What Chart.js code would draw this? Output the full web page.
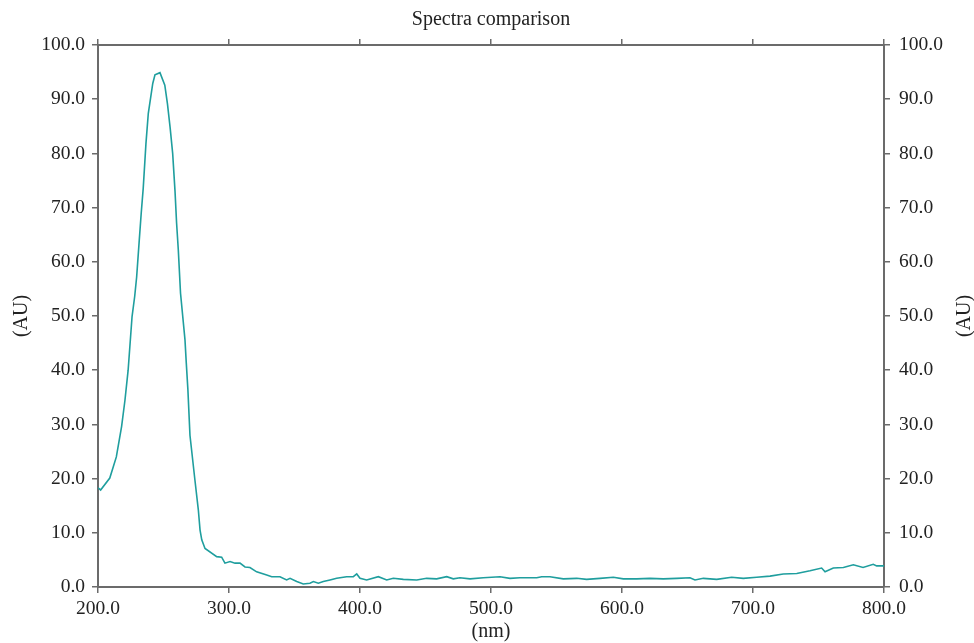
<!DOCTYPE html>
<html>
<head>
<meta charset="utf-8">
<title>Spectra comparison</title>
<script src="https://cdn.jsdelivr.net/npm/chart.js@4/dist/chart.umd.min.js"></script>
<style>
  html, body { margin: 0; padding: 0; background: #ffffff; }
  #chart { display: block; }
</style>
</head>
<body>
<canvas id="chart" width="974" height="643"></canvas>
<script>
// Dati (nm -> AU)
const wavelengths = [
  200, 202, 209, 214, 218, 220.6, 223, 226, 228, 229.5, 231.5, 233, 234.5, 236.6, 238.4,
  241.8, 243.5, 247.3, 251, 253, 255, 257, 258.8, 260, 261.3, 263, 266.4, 267.4, 268.6,
  270.2, 274, 276.6, 277.9, 279.2, 281.7, 290.6, 294.4, 296.9, 300.8, 304.6,
  308.4, 312.2, 316, 321.1, 328.8, 332.6, 338.9, 344, 346.6, 351.7, 356.7, 361.8, 364.4,
  368.2, 372, 377.1, 382.2, 389.8, 394.9, 397.5, 400, 405.1, 414, 420.4, 425.4, 433.1,
  443.3, 450.9, 458.5, 466.2, 471.2, 476.3, 484, 494.1, 506.9, 514.5, 522.1, 534.9,
  538.7, 545, 555.2, 565.4, 573, 583.2, 593.4, 601, 611.2, 621.4, 631.5, 641.8, 651.9,
  655.7, 662.1, 672.3, 683.7, 692.6, 702.8, 713, 723.1, 733.4, 743.5, 752.4, 755,
  761.3, 769, 776.6, 784, 791.8, 794.4, 800
];
const absorbance = [
  18.3, 17.9, 20.1, 24.0, 29.6, 34.5, 40.0, 49.9, 53.6, 57.2, 64.0, 69.0, 73.5, 81.8, 87.4,
  92.9, 94.5, 94.9, 92.6, 89.2, 84.9, 80.0, 73.0, 67.1, 62.2, 54.2, 45.6, 41.3, 36.5,
  28.0, 19.7, 14.2, 10.5, 8.7, 7.1, 5.6, 5.5, 4.4, 4.7, 4.4,
  4.4, 3.7, 3.6, 2.8, 2.2, 1.9, 1.9, 1.3, 1.6, 1.0, 0.55, 0.7, 1.0,
  0.7, 1.0, 1.3, 1.6, 1.9, 1.9, 2.4, 1.6, 1.3, 1.9, 1.3, 1.6, 1.4,
  1.3, 1.6, 1.5, 1.9, 1.5, 1.7, 1.5, 1.7, 1.9, 1.6, 1.7, 1.7,
  1.9, 1.9, 1.5, 1.6, 1.4, 1.6, 1.8, 1.5, 1.5, 1.6, 1.5, 1.6, 1.7,
  1.3, 1.6, 1.4, 1.8, 1.6, 1.8, 2.0, 2.4, 2.5, 3.0, 3.5, 2.8,
  3.5, 3.6, 4.1, 3.6, 4.2, 3.9, 3.9
];
const xTicks = [200, 300, 400, 500, 600, 700, 800];
const yTicks = [0, 10, 20, 30, 40, 50, 60, 70, 80, 90, 100];

const titoloGrafico = "Spectra comparison";
const titoloX = "(nm)";
const titoloY = "(AU)";

// Stile
const fontSerif = "'Liberation Serif', 'DejaVu Serif', serif";
const coloreAssi = "#6b6b6b";
const coloreLinea = "#1f9e9e";

const punti = wavelengths.map((x, i) => ({ x: x, y: absorbance[i] }));

function formatta(v) {
  return Number(v).toFixed(1);
}

// Testi fuori dagli assi (titolo e titoli degli assi)
const testiPlugin = {
  id: "testi",
  afterDraw(chart) {
    const ctx = chart.ctx;
    const area = chart.chartArea;
    const centroX = (area.left + area.right) / 2;
    const centroY = (area.top + area.bottom) / 2;
    ctx.save();
    ctx.fillStyle = "#222222";
    ctx.textAlign = "center";
    ctx.textBaseline = "middle";
    ctx.font = "20px " + fontSerif;
    ctx.fillText(titoloGrafico, centroX, 20);
    ctx.fillText(titoloX, centroX, 632);

    // (AU) a sinistra e a destra, ruotato
    [22, 965].forEach(function (x) {
      ctx.save();
      ctx.translate(x, centroY);
      ctx.rotate(-Math.PI / 2);
      ctx.fillText(titoloY, 0, 0);
      ctx.restore();
    });
    ctx.restore();
  },
};

const grigliaAssi = {
  drawOnChartArea: false,
  drawTicks: true,
  tickLength: 6,
  color: coloreAssi,
  lineWidth: 1.5,
};
const bordoAssi = { color: coloreAssi, width: 2 };
const fontTick = { family: fontSerif, size: 19.5 };

const config = {
  type: "line",
  data: {
    datasets: [
      {
        label: titoloGrafico,
        data: punti,
        borderColor: coloreLinea,
        borderWidth: 1.6,
        pointRadius: 0,
        tension: 0,
        fill: false,
      },
    ],
  },
  options: {
    responsive: false,
    animation: false,
    layout: { padding: 0 },
    plugins: {
      legend: { display: false },
      tooltip: { enabled: false },
      title: { display: false },
    },
    scales: {
      x: {
        type: "linear",
        position: "bottom",
        min: 200,
        max: 800,
        afterBuildTicks: (s) => { s.ticks = xTicks.map((v) => ({ value: v })); },
        ticks: { color: "#222222", font: fontTick, padding: 4, maxRotation: 0, callback: formatta },
        grid: grigliaAssi,
        border: bordoAssi,
        afterFit: (s) => { s.height = 56; },
      },
      xTop: {
        type: "linear",
        position: "top",
        min: 200,
        max: 800,
        afterBuildTicks: (s) => { s.ticks = xTicks.map((v) => ({ value: v })); },
        ticks: { display: false },
        grid: grigliaAssi,
        border: bordoAssi,
        afterFit: (s) => { s.height = 45; },
      },
      y: {
        type: "linear",
        position: "left",
        min: 0,
        max: 100,
        afterBuildTicks: (s) => { s.ticks = yTicks.map((v) => ({ value: v })); },
        ticks: { color: "#222222", font: fontTick, padding: 7, callback: formatta },
        grid: grigliaAssi,
        border: bordoAssi,
        afterFit: (s) => { s.width = 98; },
      },
      yRight: {
        type: "linear",
        position: "right",
        min: 0,
        max: 100,
        afterBuildTicks: (s) => { s.ticks = yTicks.map((v) => ({ value: v })); },
        ticks: { color: "#222222", font: fontTick, padding: 9, callback: formatta },
        grid: grigliaAssi,
        border: bordoAssi,
        afterFit: (s) => { s.width = 90; },
      },
    },
  },
  plugins: [testiPlugin],
};

const ctx = document.getElementById("chart").getContext("2d");
const grafico = new Chart(ctx, config);
</script>
</body>
</html>
